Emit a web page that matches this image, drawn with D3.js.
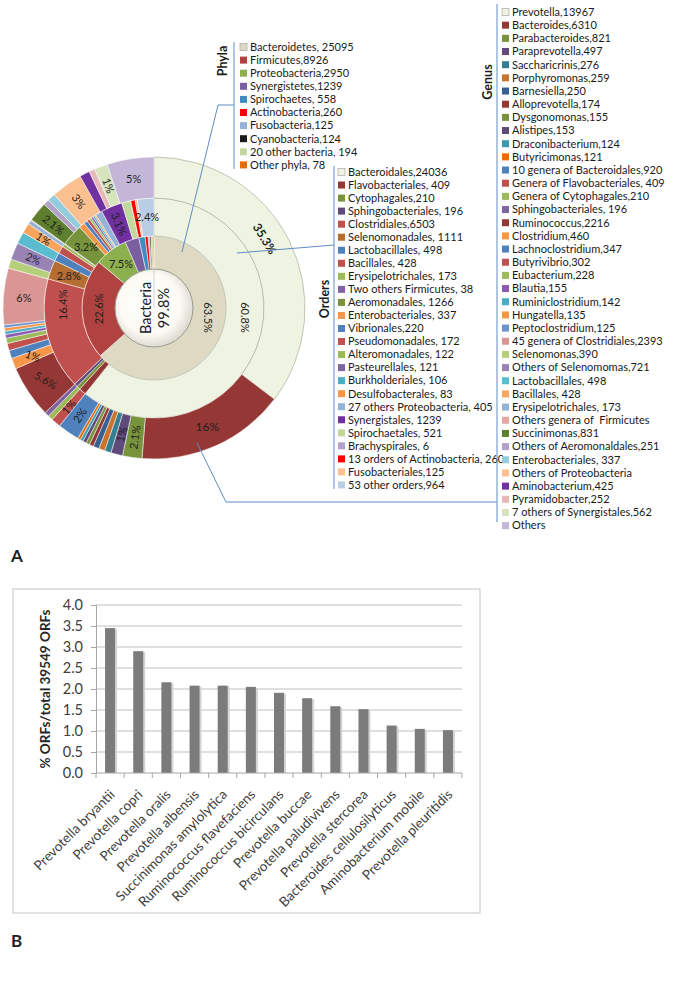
<!DOCTYPE html>
<html>
<head>
<meta charset="utf-8">
<script src="https://cdn.jsdelivr.net/npm/d3@7"></script>
<style>
  body { margin: 0; background: #fff; }
  svg text { font-family: Lato, "Open Sans", sans-serif; }
</style>
</head>
<body>
<svg id="fig" width="683" height="985"></svg>
<script>
// ---- data: panel A (ORF counts, doughnut rings) ----
const phyla = ['Bacteroidetes, 25095', 'Firmicutes,8926', 'Proteobacteria,2950', 'Synergistetes,1239',
  'Spirochaetes, 558', 'Actinobacteria,260', 'Fusobacteria,125', 'Cyanobacteria,124',
  '20 other bacteria, 194', 'Other phyla, 78'];
const phylaValues = [25095, 8926, 2950, 1239, 558, 260, 125, 124, 194, 78];
const phylaPct = ['63.5%', '22.6%', '7.5%', '', '', '', '', '', '', ''];

const orders = ['Bacteroidales,24036', 'Flavobacteriales, 409', 'Cytophagales,210', 'Sphingobacteriales, 196',
  'Clostridiales,6503', 'Selenomonadales, 1111', 'Lactobacillales, 498', 'Bacillales, 428',
  'Erysipelotrichales, 173', 'Two others Firmicutes, 38', 'Aeromonadales, 1266', 'Enterobacteriales, 337',
  'Vibrionales,220', 'Pseudomonadales, 172', 'Alteromonadales, 122', 'Pasteurellales, 121',
  'Burkholderiales, 106', 'Desulfobacterales, 83', '27 others Proteobacteria, 405', 'Synergistales, 1239',
  'Spirochaetales, 521', 'Brachyspirales, 6', '13 orders of Actinobacteria, 260', 'Fusobacteriales,125',
  '53 other orders,964'];
const orderValues = [24036, 409, 210, 196, 6503, 1111, 498, 428, 173, 38, 1266, 337, 220, 172, 122, 121,
  106, 83, 405, 1239, 521, 6, 260, 125, 964];
const orderPct = ['60.8%', '', '', '', '16.4%', '2.8%', '', '', '', '', '3.2%', '', '', '', '', '', '', '',
  '', '3.1%', '', '', '', '', '2.4%'];

const genera = ['Prevotella,13967', 'Bacteroides,6310', 'Parabacteroides,821', 'Paraprevotella,497',
  'Saccharicrinis,276', 'Porphyromonas,259', 'Barnesiella,250', 'Alloprevotella,174', 'Dysgonomonas,155',
  'Alistipes,153', 'Draconibacterium,124', 'Butyricimonas,121', '10 genera of Bacteroidales,920',
  'Genera of Flavobacteriales, 409', 'Genera of Cytophagales,210', 'Sphingobacteriales, 196',
  'Ruminococcus,2216', 'Clostridium,460', 'Lachnoclostridium,347', 'Butyrivibrio,302', 'Eubacterium,228',
  'Blautia,155', 'Ruminiclostridium,142', 'Hungatella,135', 'Peptoclostridium,125',
  '45 genera of Clostridiales,2393', 'Selenomonas,390', 'Others of Selenomomas,721', 'Lactobacillales, 498',
  'Bacillales, 428', 'Erysipelotrichales, 173', 'Others genera of  Firmicutes', 'Succinimonas,831',
  'Others of Aeromonaldales,251', 'Enterobacteriales, 337', 'Others of Proteobacteria', 'Aminobacterium,425',
  'Pyramidobacter,252', '7 others of Synergistales,562', 'Others'];
// the entries without a number in the legend are estimated from the ring
const genusValues = [13967, 6310, 821, 497, 276, 259, 250, 174, 155, 153, 124, 121, 920, 409, 210, 196,
  2216, 460, 347, 302, 228, 155, 142, 135, 125, 2393, 390, 721, 498, 428, 173, 38, 831, 251, 337, 1321,
  425, 252, 562, 1977];
const genusPct = ['35.3%', '16%', '2.1%', '1%', '', '', '', '', '', '', '', '', '2%', '1%', '', '',
  '5.6%', '1%', '', '', '', '', '', '', '', '6%', '', '2%', '', '1%', '', '', '2.1%', '', '', '3%',
  '', '', '1%', '5%'];

// ---- data: panel B ----
const species = ['Prevotella bryantii', 'Prevotella copri', 'Prevotella oralis', 'Prevotella albensis',
  'Succinimonas amylolytica', 'Ruminococcus flavefaciens', 'Ruminococcus bicirculans', 'Prevotella buccae',
  'Prevotella paludivivens', 'Prevotella stercorea', 'Bacteroides cellulosilyticus', 'Aminobacterium mobile',
  'Prevotella pleuritidis'];
const orfPct = [3.45, 2.9, 2.16, 2.08, 2.08, 2.05, 1.91, 1.78, 1.59, 1.52, 1.13, 1.05, 1.02];
const yTicks = [0, 0.5, 1, 1.5, 2, 2.5, 3, 3.5, 4];

// ---- colours ----
const phylaColors = ['#DDD9C3', '#B0423F', '#8DB04F', '#7A5FA0', '#3E8CC0', '#FF0000', '#95B3D7', '#1A1A1A',
  '#C3D69B', '#E46C0A'];
const orderColors = ['#EEF3E2', '#953735', '#77933C', '#604A7B', '#C0504D', '#B66D31', '#4F81BD', '#C0504D',
  '#9BBB59', '#8064A2', '#77933C', '#F79646', '#4F81BD', '#C0504D', '#9BBB59', '#8064A2', '#4BACC6',
  '#F79646', '#95B3D7', '#7030A0', '#C3D69B', '#B2A2C7', '#FF0000', '#FAC090', '#B9CDE5'];
const genusColors = ['#EEF3E2', '#953735', '#77933C', '#604A7B', '#357D91', '#C8742F', '#376092', '#953735',
  '#77933C', '#604A7B', '#3A9BB0', '#E46C0A', '#4F81BD', '#C0504D', '#9BBB59', '#8064A2', '#953735',
  '#F79646', '#4F81BD', '#C0504D', '#9BBB59', '#8A5BB0', '#4BACC6', '#F79646', '#6D93CF', '#D99694',
  '#B5CF7B', '#9983B5', '#5BBCD0', '#F9A45C', '#95B3D7', '#E6A6A4', '#5E7F2E', '#B2A2C7', '#93CDDD',
  '#FAC090', '#7030A0', '#E6B9B8', '#D7E4BD', '#C3B6D6'];
const lineBlue = '#5F8DC6';

const svg = d3.select('#fig');

// ================= Panel A: nested doughnut =================
const cx = 154, cy = 308;
const pie = d3.pie().sort(null).value((d) => d);

// label rotation: 'r' = along the radius (readable), 'tan' = across it, otherwise degrees
const labelRot = {
  '0:0': 90, '0:1': -90, '0:2': 0,
  '1:0': 90, '1:4': -90, '1:5': 0, '1:10': 0, '1:19': 'r', '1:24': 0,
  '2:0': 'tan', '2:1': 0, '2:16': 30, '2:17': 20, '2:25': 0, '2:39': 0
};
// labels that were dragged away from the slice centre (angle in degrees, clockwise from top)
const labelAt = { '0:0': 100, '1:0': 96, '1:4': 272, '2:0': 58 };

const rings = [
  { values: phylaValues, colors: phylaColors, pct: phylaPct, r0: 38, r1: 72 },
  { values: orderValues, colors: orderColors, pct: orderPct, r0: 72, r1: 110 },
  { values: genusValues, colors: genusColors, pct: genusPct, r0: 110, r1: 151 }
];

const donut = svg.append('g').attr('transform', `translate(${cx},${cy})`);

rings.forEach((ring, ri) => {
  const arc = d3.arc().innerRadius(ring.r0).outerRadius(ring.r1);
  const arcs = pie(ring.values);
  const g = donut.append('g');
  g.selectAll('path')
    .data(arcs)
    .join('path')
    .attr('d', arc)
    .attr('fill', (d, i) => ring.colors[i])
    .attr('stroke', (d, i) => (i === 0 && ri > 0 ? '#B4B8A6' : '#fff'))
    .attr('stroke-width', (d, i) => (i === 0 && ri > 0 ? 0.8 : 0.5));

  g.selectAll('text')
    .data(arcs.filter((d, i) => ring.pct[i] !== ''))
    .join('text')
    .attr('transform', (d) => {
      const key = `${ri}:${d.index}`;
      let a = ((d.startAngle + d.endAngle) / 2) * 180 / Math.PI;
      if (labelAt[key] !== undefined) a = labelAt[key];
      const rad = (ring.r0 + ring.r1) / 2;
      const x = rad * Math.sin(a * Math.PI / 180);
      const y = -rad * Math.cos(a * Math.PI / 180);
      let r = labelRot[key];
      if (r === undefined || r === 'r') r = a < 180 ? a - 90 : a - 270;
      if (r === 'tan') r = a;
      return `translate(${x},${y}) rotate(${r})`;
    })
    .attr('text-anchor', 'middle')
    .attr('dy', '0.35em')
    .attr('font-size', (d) => (ri === 2 && d.index < 2 ? 12 : 11))
    .attr('font-weight', (d) => (ri === 2 && d.index === 0 ? 'bold' : null))
    .attr('fill', '#1f1f1f')
    .text((d) => ring.pct[d.index]);
});

// centre disc
const defs = svg.append('defs');
const grad = defs.append('radialGradient').attr('id', 'disc').attr('cx', '45%').attr('cy', '45%').attr('r', '60%');
grad.append('stop').attr('offset', '0%').attr('stop-color', '#ffffff');
grad.append('stop').attr('offset', '65%').attr('stop-color', '#FBFAF4');
grad.append('stop').attr('offset', '100%').attr('stop-color', '#D6D3C6');
donut.append('circle').attr('r', 39).attr('fill', 'url(#disc)').attr('stroke', '#9A9A92').attr('stroke-width', 1);
donut.append('line').attr('x1', 0).attr('x2', 0).attr('y1', -39).attr('y2', 0).attr('stroke', '#bbb').attr('stroke-width', 0.6);
donut.append('text').attr('transform', 'translate(-8,0) rotate(-90)').attr('text-anchor', 'middle')
  .attr('dy', '0.35em').attr('font-size', 14.5).attr('fill', '#222').text('Bacteria');
donut.append('text').attr('transform', 'translate(10,0) rotate(-90)').attr('text-anchor', 'middle')
  .attr('dy', '0.35em').attr('font-size', 14.5).attr('fill', '#222').text('99.8%');

// legends
function drawLegend(items, colors, opt) {
  const g = svg.append('g');
  g.append('line')
    .attr('x1', opt.lineX).attr('x2', opt.lineX)
    .attr('y1', opt.lineTop).attr('y2', opt.lineBottom)
    .attr('stroke', lineBlue).attr('stroke-width', 1);
  g.append('text')
    .attr('transform', `translate(${opt.titleX},${opt.titleY}) rotate(-90)`)
    .attr('text-anchor', 'middle').attr('dy', '0.35em')
    .attr('font-size', 12.5).attr('font-weight', 'bold').attr('fill', '#1a1a1a')
    .text(opt.title);
  const rows = g.selectAll('g.row').data(items).join('g').attr('class', 'row')
    .attr('transform', (d, i) => `translate(${opt.x},${opt.y0 + i * opt.step})`);
  rows.append('rect').attr('x', 0).attr('y', -3.5).attr('width', 7).attr('height', 7)
    .attr('fill', (d, i) => colors[i])
    .attr('stroke', (d, i) => (i === 0 ? '#9a9a9a' : 'none')).attr('stroke-width', 0.6);
  rows.append('text').attr('x', 10).attr('dy', '0.35em')
    .attr('font-size', 11).attr('fill', '#1a1a1a')
    .style('white-space', 'pre').text((d) => d);
}

drawLegend(phyla, phylaColors, { x: 240, y0: 47, step: 13.1, lineX: 234, lineTop: 42, lineBottom: 169,
  title: 'Phyla', titleX: 223, titleY: 61 });
drawLegend(orders, orderColors, { x: 338, y0: 172, step: 13.04, lineX: 334, lineTop: 166, lineBottom: 489,
  title: 'Orders', titleX: 325, titleY: 299 });
drawLegend(genera, genusColors, { x: 502, y0: 12, step: 13.17, lineX: 497, lineTop: 4, lineBottom: 522,
  title: 'Genus', titleX: 488, titleY: 82 });

// connector lines
const conn = svg.append('g').attr('fill', 'none').attr('stroke', lineBlue).attr('stroke-width', 1);
conn.append('polyline').attr('points', '234,105 218,105 182,252');
conn.append('polyline').attr('points', '334,245 237,253');
conn.append('polyline').attr('points', '197,443 226,502 497,502');

svg.append('text').attr('x', 11).attr('y', 562).attr('font-family', 'Liberation Sans, Arial')
  .attr('font-size', 17).attr('font-weight', 'bold').attr('fill', '#222').text('A');

// ================= Panel B: bar chart =================
svg.append('rect').attr('x', 13).attr('y', 589).attr('width', 467).attr('height', 324)
  .attr('fill', 'none').attr('stroke', '#C4C4C4').attr('stroke-width', 1);

const plot = { left: 96, right: 462, top: 605, bottom: 773 };
const x = d3.scaleBand().domain(species).range([plot.left, plot.right]).padding(0);
const y = d3.scaleLinear().domain([0, 4]).range([plot.bottom, plot.top]);
const barW = 10;

const chart = svg.append('g');
chart.append('g').selectAll('line').data(yTicks.slice(1)).join('line')
  .attr('x1', plot.left).attr('x2', plot.right)
  .attr('y1', (d) => y(d)).attr('y2', (d) => y(d))
  .attr('stroke', '#BFBFBF').attr('stroke-width', 1);

const yAxis = chart.append('g').attr('transform', `translate(${plot.left},0)`)
  .call(d3.axisLeft(y).tickValues(yTicks).tickFormat(d3.format('.1f')).tickSize(5).tickPadding(8));
yAxis.select('.domain').attr('stroke', '#A6A6A6');
yAxis.selectAll('.tick line').attr('stroke', '#A6A6A6');
yAxis.selectAll('.tick text').attr('font-size', 14.5).attr('fill', '#404040')
  .attr('font-family', 'Lato, sans-serif');

// bars with a soft shadow
const bars = chart.append('g');
bars.selectAll('rect.shadow').data(species).join('rect').attr('class', 'shadow')
  .attr('x', (d) => x(d) + x.bandwidth() / 2 - barW / 2 + 2)
  .attr('y', (d, i) => y(orfPct[i]) + 1)
  .attr('width', barW).attr('height', (d, i) => plot.bottom - y(orfPct[i]) - 1)
  .attr('fill', '#D4D4D4');
bars.selectAll('rect.bar').data(species).join('rect').attr('class', 'bar')
  .attr('x', (d) => x(d) + x.bandwidth() / 2 - barW / 2)
  .attr('y', (d, i) => y(orfPct[i]))
  .attr('width', barW).attr('height', (d, i) => plot.bottom - y(orfPct[i]))
  .attr('fill', '#7B7B7B');

// x axis with ticks between categories
const xAxis = chart.append('g');
xAxis.append('line').attr('x1', plot.left).attr('x2', plot.right)
  .attr('y1', plot.bottom).attr('y2', plot.bottom).attr('stroke', '#A6A6A6');
xAxis.selectAll('line.tk').data(species.concat([null])).join('line').attr('class', 'tk')
  .attr('x1', (d, i) => plot.left + i * x.step()).attr('x2', (d, i) => plot.left + i * x.step())
  .attr('y1', plot.bottom).attr('y2', plot.bottom + 5).attr('stroke', '#A6A6A6');
xAxis.selectAll('text').data(species).join('text')
  .attr('transform', (d) => `translate(${x(d) + x.bandwidth() / 2 + 2},${plot.bottom + 19}) rotate(-45)`)
  .attr('text-anchor', 'end').attr('dy', '0.35em')
  .attr('font-size', 13.5).attr('fill', '#404040').text((d) => d);

svg.append('text').attr('transform', 'translate(45,689) rotate(-90)')
  .attr('text-anchor', 'middle').attr('dy', '0.35em')
  .attr('font-size', 13.5).attr('font-weight', 'bold').attr('fill', '#262626')
  .text('% ORFs/total 39549 ORFs');

svg.append('text').attr('x', 11).attr('y', 947).attr('font-family', 'Liberation Sans, Arial')
  .attr('font-size', 17).attr('font-weight', 'bold').attr('fill', '#222').text('B');
</script>
</body>
</html>
